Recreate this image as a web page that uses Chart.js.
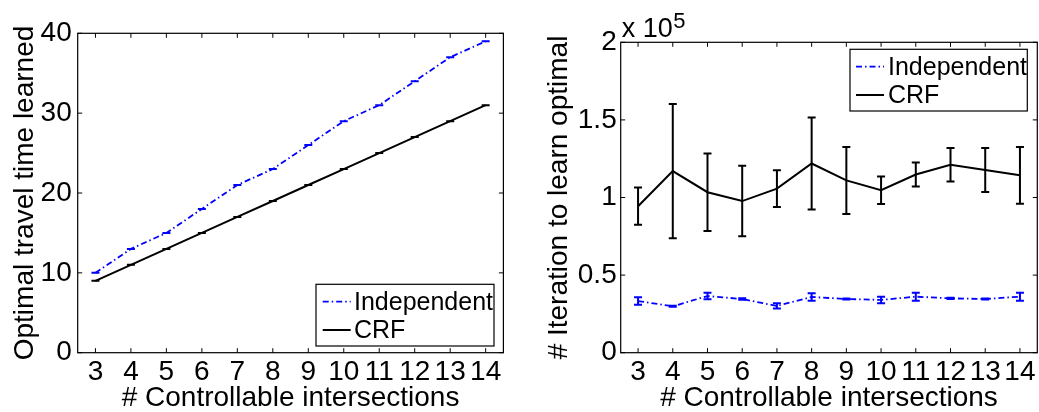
<!DOCTYPE html>
<html><head><meta charset="utf-8">
<script src="https://cdn.jsdelivr.net/npm/chart.js@4/dist/chart.umd.min.js"></script>
<style>
html,body{margin:0;padding:0;background:#fff;}
#wrap{position:relative;width:1039px;height:412px;overflow:hidden;background:#fff;}
#c1{position:absolute;left:0;top:0;}
#c2{position:absolute;left:520px;top:0;}
</style></head><body>
<div id="wrap"><canvas id="c1" width="520" height="412"></canvas><canvas id="c2" width="519" height="412"></canvas></div>
<script>
// ---- data ----
const intersections = [3, 4, 5, 6, 7, 8, 9, 10, 11, 12, 13, 14];
const seriesLabels = ['Independent', 'CRF'];

const travelIndependent    = [10, 13, 15, 18, 21, 23, 26, 29, 31, 34, 37, 39];
const travelIndependentErr = [0, 0, 0, 0, 0, 0, 0, 0, 0, 0, 0, 0];
const travelCRF            = [9, 11, 13, 15, 17, 19, 21, 23, 25, 27, 29, 31];
const travelCRFErr         = [0, 0, 0, 0, 0, 0, 0, 0, 0, 0, 0, 0];

const iterIndependent    = [33300, 29900, 36500, 34600, 30100, 35900, 34600, 34000, 36100, 35000, 34600, 36100];
const iterIndependentErr = [2400, 300, 2100, 500, 1700, 2400, 400, 2100, 2600, 400, 400, 2600];
const iterCRF            = [94400, 117000, 103400, 97700, 105700, 121900, 111000, 104700, 114800, 121100, 117700, 114300];
const iterCRFErr         = [12000, 43200, 25000, 22700, 11800, 29700, 21600, 8900, 7700, 10800, 14200, 18300];

const travelTicks = [0, 10, 20, 30, 40];
const iterTicks = [0, 50000, 100000, 150000, 200000];
const iterMultiplierExp = 5;

const xTitle = '# Controllable intersections';
const travelTitle = 'Optimal travel time learned';
const iterTitle = '# Iteration to learn optimal';

// ---- styling ----
const FONT = '"Liberation Sans", Arial, Helvetica, sans-serif';
Chart.defaults.font.family = FONT;
Chart.defaults.color = '#000';

const toPoints = (ys) => intersections.map((x, i) => ({x: x, y: ys[i]}));

const frame = {
  id: 'frame',
  afterDatasetsDraw(chart, args, o) {
    const {ctx, chartArea: a, scales: {x, y}} = chart;
    ctx.save();
    ctx.strokeStyle = '#000'; ctx.lineWidth = 1; ctx.setLineDash([]);
    ctx.beginPath();
    x.ticks.forEach(t => {
      const px = x.getPixelForValue(t.value);
      ctx.moveTo(px, a.bottom); ctx.lineTo(px, a.bottom - o.len);
      ctx.moveTo(px, a.top); ctx.lineTo(px, a.top + o.len);
    });
    y.ticks.forEach(t => {
      const py = y.getPixelForValue(t.value);
      ctx.moveTo(a.left, py); ctx.lineTo(a.left + o.len, py);
      ctx.moveTo(a.right, py); ctx.lineTo(a.right - o.len, py);
    });
    ctx.stroke();
    ctx.lineWidth = 1.2;
    ctx.strokeRect(a.left, a.top, a.right - a.left, a.bottom - a.top);
    ctx.restore();
  }
};

const errorBars = {
  id: 'errorBars',
  afterDatasetsDraw(chart, args, o) {
    const {ctx, scales: {x, y}} = chart;
    chart.data.datasets.forEach(ds => {
      if (!ds.errors) return;
      ctx.save();
      ctx.strokeStyle = ds.borderColor; ctx.lineWidth = o.width; ctx.setLineDash([]);
      ctx.beginPath();
      ds.data.forEach((p, i) => {
        const px = x.getPixelForValue(p.x), e = ds.errors[i];
        const y1 = y.getPixelForValue(p.y - e), y2 = y.getPixelForValue(p.y + e);
        ctx.moveTo(px, y1); ctx.lineTo(px, y2);
        ctx.moveTo(px - o.cap, y1); ctx.lineTo(px + o.cap, y1);
        ctx.moveTo(px - o.cap, y2); ctx.lineTo(px + o.cap, y2);
      });
      ctx.stroke();
      ctx.restore();
    });
  }
};

const boxLegend = {
  id: 'boxLegend',
  afterDraw(chart, args, o) {
    const {ctx, chartArea: a} = chart;
    const left = a.right - o.marginRight - o.width;
    const top = o.fromTop ? a.top + o.marginY : a.bottom - o.marginY - o.height;
    ctx.save();
    ctx.fillStyle = '#fff';
    ctx.fillRect(left, top, o.width, o.height);
    ctx.strokeStyle = '#000'; ctx.lineWidth = 1.2;
    ctx.strokeRect(left, top, o.width, o.height);
    ctx.font = o.fontSize + 'px ' + FONT;
    ctx.textAlign = 'left'; ctx.textBaseline = 'alphabetic';
    chart.data.datasets.forEach((ds, i) => {
      const ly = top + o.rowLine[i];
      ctx.beginPath();
      ctx.strokeStyle = ds.borderColor; ctx.lineWidth = ds.borderWidth;
      ctx.setLineDash(ds.borderDash || []);
      ctx.moveTo(left + o.sampleX0, ly); ctx.lineTo(left + o.sampleX1, ly);
      ctx.stroke();
      ctx.setLineDash([]);
      ctx.fillStyle = '#000';
      ctx.fillText(ds.label, left + o.textX, top + o.rowBase[i]);
    });
    ctx.restore();
  }
};

const yTitlePlugin = {
  id: 'yTitle',
  afterDraw(chart, args, o) {
    const {ctx, chartArea: a} = chart;
    ctx.save();
    ctx.font = o.fontSize + 'px ' + FONT;
    ctx.fillStyle = '#000';
    ctx.translate(o.baselineX, (a.top + a.bottom) / 2);
    ctx.rotate(-Math.PI / 2);
    ctx.textAlign = 'center'; ctx.textBaseline = 'alphabetic';
    ctx.fillText(o.text, 0, 0);
    ctx.restore();
  }
};

const multiplier = {
  id: 'multiplier',
  afterDraw(chart, args, o) {
    if (!o.exp) return;
    const {ctx, chartArea: a} = chart;
    ctx.save();
    ctx.fillStyle = '#000';
    ctx.textAlign = 'left'; ctx.textBaseline = 'alphabetic';
    ctx.font = o.baseSize + 'px ' + FONT;
    const base = 'x 10';
    const x0 = a.left + o.dx;
    ctx.fillText(base, x0, o.baseY);
    const w = ctx.measureText(base).width;
    ctx.font = o.expSize + 'px ' + FONT;
    ctx.fillText(String(o.exp), x0 + w + 0.5, o.expY);
    ctx.restore();
  }
};

function makeChart(canvas, cfg) {
  return new Chart(canvas, {
    type: 'line',
    data: {
      datasets: [
        {label: seriesLabels[0], data: toPoints(cfg.indep), errors: cfg.indepErr,
         borderColor: '#0000ff', borderWidth: 1.8, borderDash: [6, 3, 1.5, 3], pointRadius: 0, tension: 0, fill: false},
        {label: seriesLabels[1], data: toPoints(cfg.crf), errors: cfg.crfErr,
         borderColor: '#000000', borderWidth: 2, pointRadius: 0, tension: 0, fill: false}
      ]
    },
    options: {
      responsive: false, animation: false, events: [],
      layout: {padding: cfg.padding},
      plugins: {
        legend: {display: false}, tooltip: {enabled: false},
        frame: {len: 4.5},
        errorBars: {width: 2, cap: 4},
        boxLegend: cfg.legend,
        yTitle: cfg.yTitle,
        multiplier: cfg.multiplier || {}
      },
      scales: {
        x: {
          type: 'linear', min: 2.5, max: 14.5,
          grid: {display: false, drawTicks: false}, border: {display: false},
          afterBuildTicks: s => { s.ticks = intersections.map(v => ({value: v})); },
          afterFit: s => { s.height = cfg.xHeight; },
          ticks: {autoSkip: false, maxRotation: 0, padding: 3, font: {size: 28}, color: '#000',
                  callback: v => String(v)},
          title: {display: true, text: xTitle, font: {size: 28, lineHeight: 1}, padding: {top: 0, bottom: 0}, color: '#000'}
        },
        y: {
          type: 'linear', min: cfg.yTicks[0], max: cfg.yTicks[cfg.yTicks.length - 1],
          grid: {display: false, drawTicks: false}, border: {display: false},
          afterBuildTicks: s => { s.ticks = cfg.yTicks.map(v => ({value: v})); },
          afterFit: s => { s.width = cfg.yWidth; },
          ticks: {padding: cfg.yPad, font: {size: 28}, color: '#000', callback: cfg.yFormat},
          title: {display: false}
        }
      }
    },
    plugins: [frame, errorBars, boxLegend, yTitlePlugin, multiplier]
  });
}

makeChart(document.getElementById('c1'), {
  indep: travelIndependent, indepErr: travelIndependentErr,
  crf: travelCRF, crfErr: travelCRFErr,
  yTicks: travelTicks, yFormat: v => String(v),
  padding: {left: 0, right: 16.6, top: 33.3, bottom: 0},
  yWidth: 77.7, xHeight: 59.3, yPad: 6,
  legend: {fromTop: false, marginRight: 9.4, marginY: 6.7, width: 178, height: 61.7,
           sampleX0: 6.7, sampleX1: 34.7, textX: 38, rowLine: [17.4, 45.7], rowBase: [25.3, 54], fontSize: 25},
  yTitle: {text: travelTitle, baselineX: 33, fontSize: 28}
});

makeChart(document.getElementById('c2'), {
  indep: iterIndependent, indepErr: iterIndependentErr,
  crf: iterCRF, crfErr: iterCRFErr,
  yTicks: iterTicks, yFormat: v => String(v / Math.pow(10, iterMultiplierExp)),
  padding: {left: 0, right: 1.7, top: 42.3, bottom: 0},
  yWidth: 100.7, xHeight: 59.3, yPad: 4,
  legend: {fromTop: true, marginRight: 10, marginY: 7, width: 177.3, height: 61.7,
           sampleX0: 6, sampleX1: 34, textX: 38, rowLine: [17.4, 45.7], rowBase: [25.3, 54], fontSize: 25},
  yTitle: {text: iterTitle, baselineX: 46.7, fontSize: 28},
  multiplier: {exp: iterMultiplierExp, dx: 1, baseY: 37.3, baseSize: 27, expY: 28.3, expSize: 22}
});
</script>
</body></html>
